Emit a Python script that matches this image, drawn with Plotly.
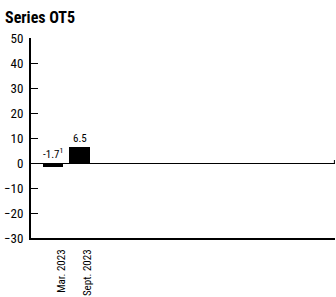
import plotly.graph_objects as go

categories = ["Mar. 2023", "Sept. 2023"]
values = [-1.7, 6.5]
value_labels = ["-1.7<sup>1</sup>", "6.5"]
y_ticks = [-30, -20, -10, 0, 10, 20, 30, 40, 50]

FONT = "Liberation Sans Narrow, Arial Narrow, Roboto Condensed, sans-serif"

fig = go.Figure()
fig.add_trace(go.Bar(x=categories, y=values, marker=dict(color="black", line=dict(width=0)),
                     width=0.79, hoverinfo="skip"))

for c, v, t in zip(categories, values, value_labels):
    fig.add_annotation(x=c, y=max(v, 0), text=t, showarrow=False, yanchor="bottom",
                       yshift=0, font=dict(size=11, color="black", family=FONT))

# small end tick on the zero line at the right edge
fig.add_shape(type="line", xref="paper", yref="y", x0=0.998, x1=0.998, y0=0, y1=1.2,
              line=dict(color="black", width=1))

fig.update_layout(
    width=336, height=297,
    margin=dict(l=31, r=1, t=38, b=59),
    plot_bgcolor="white", paper_bgcolor="white",
    showlegend=False,
    bargap=0,
    font=dict(family=FONT, color="black"),
    title=dict(text="<b>Series OT5</b>", x=0.015, xanchor="left", y=0.94, yanchor="middle",
               font=dict(size=16, family=FONT, color="black")),
)
fig.update_yaxes(range=[-30, 50], tickvals=y_ticks, ticks="inside", ticklen=7, tickwidth=1,
                 tickcolor="black", showline=True, linewidth=2, linecolor="black",
                 showgrid=False, zeroline=True, zerolinecolor="black", zerolinewidth=1,
                 automargin=False, ticklabelstandoff=3,
                 tickfont=dict(size=13, family=FONT, color="black"))
fig.update_xaxes(type="category", range=[-0.83, 10.64], showline=True, linewidth=2,
                 linecolor="black", showgrid=False, ticks="", tickangle=-90,
                 automargin=False, ticklabelshift=8, ticklabelstandoff=5,
                 tickfont=dict(size=11, family=FONT, color="black"))

fig.write_html("out.html", config={"displayModeBar": False},
               post_script="document.body.style.margin='0';document.body.style.overflow='hidden';")
